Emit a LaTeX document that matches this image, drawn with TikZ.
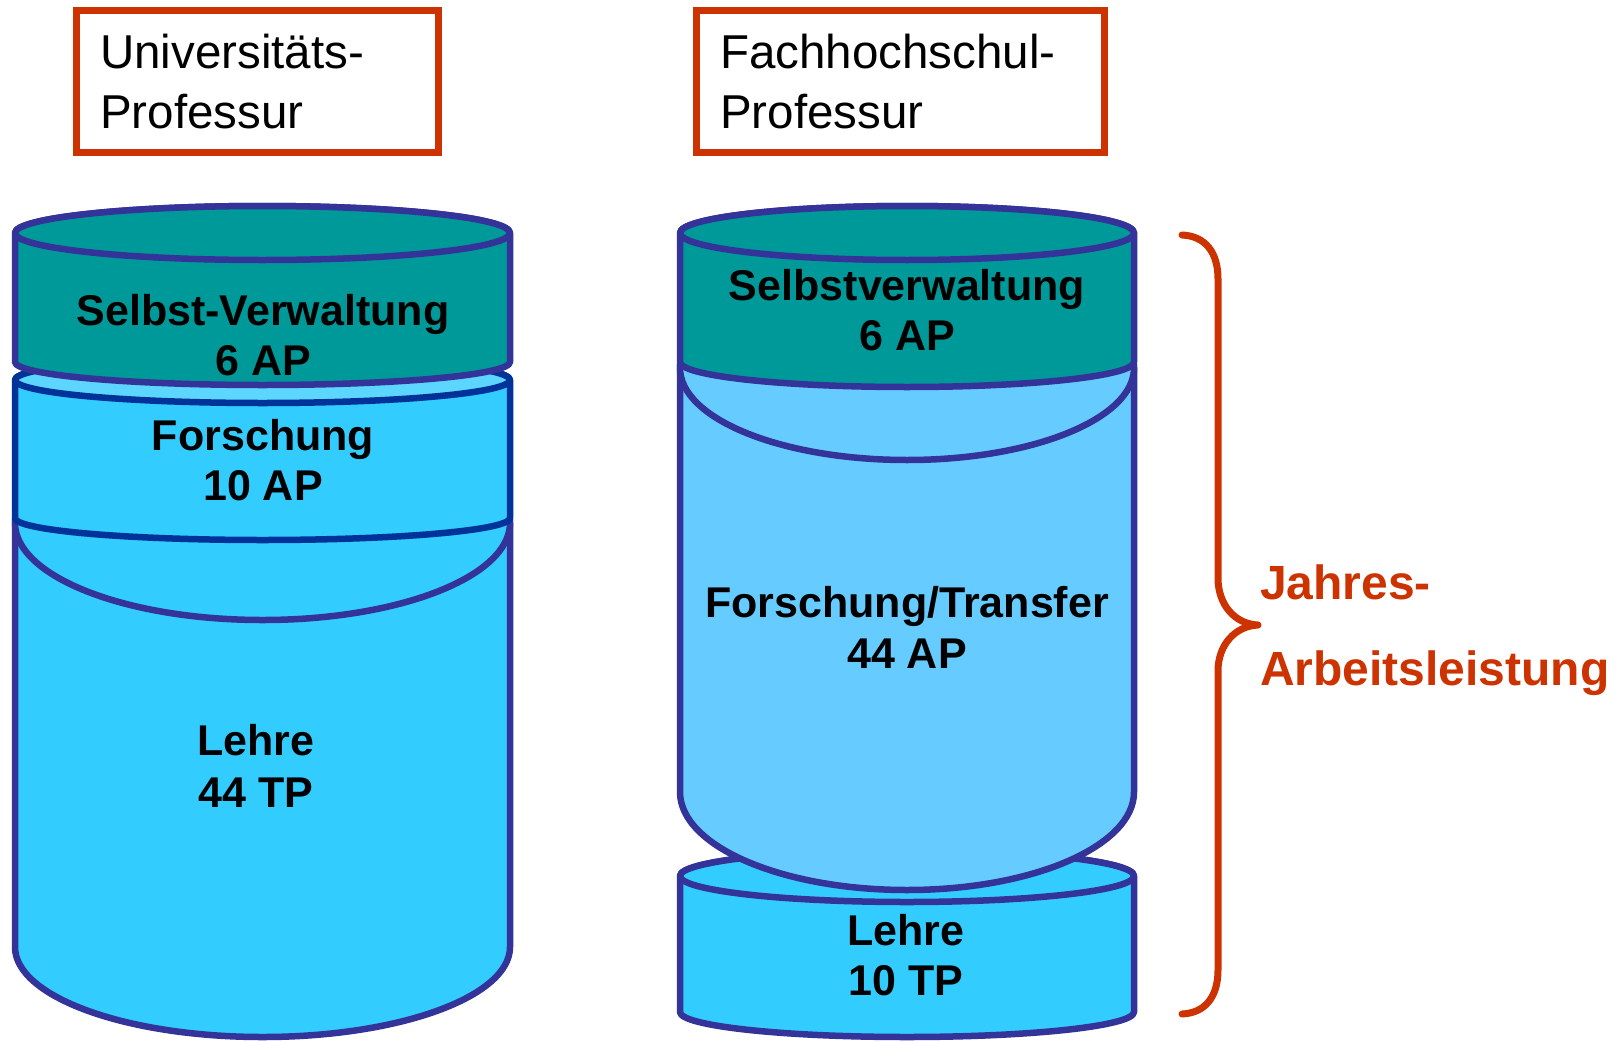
\documentclass[tikz,border=0pt]{standalone}
\usepackage{fontspec}
\setmainfont{Liberation Sans}
\definecolor{boxred}{HTML}{CC3300}
\definecolor{rim}{HTML}{333399}
\definecolor{rimdark}{HTML}{003399}
\definecolor{tealc}{HTML}{009999}
\definecolor{cyanc}{HTML}{33CCFF}
\definecolor{lightc}{HTML}{66CCFF}
\definecolor{topc}{HTML}{5CD6FF}
\tikzset{
  titlebox/.style={draw=boxred, line width=7pt, fill=white},
  titletext/.style={anchor=base west, inner sep=0pt, font=\fontsize{47.5}{60}\selectfont},
  segtext/.style={anchor=base, inner sep=0pt, font=\fontsize{43}{50}\selectfont\bfseries},
  bracetext/.style={anchor=base west, inner sep=0pt, text=boxred, font=\fontsize{48}{86}\selectfont\bfseries},
  segline/.style={line width=6.5pt, line join=round},
}
% #1 cx, #2 rx, #3 ytop, #4 rytop, #5 ybot, #6 rybot, #7 body fill, #8 top fill, #9 stroke
\newcommand\cylseg[9]{%
  \filldraw[segline, fill=#7, draw=#9] (#1-#2,#3) -- (#1-#2,#5)
    arc[start angle=180, end angle=360, x radius=#2pt, y radius=#6pt]
    -- (#1+#2,#3)
    arc[start angle=0, end angle=180, x radius=#2pt, y radius=#4pt] -- cycle;
  \filldraw[segline, fill=#8, draw=#9] (#1,#3) ellipse [x radius=#2pt, y radius=#4pt];
}
\begin{document}
\begin{tikzpicture}[x=1pt,y=-1pt]
\useasboundingbox (0,0) rectangle (1619,1041);
\fill[white] (0,0) rectangle (1619,1041);

% title boxes
\draw[titlebox] (76,11) rectangle (438,152);
\draw[titlebox] (696,11) rectangle (1104,152);
\node[titletext] (u1) at (100,68) {Universitäts-};
\node[titletext] (u2) at (100,128) {Professur};
\node[titletext] (f1) at (720,68) {Fachhochschul-};
\node[titletext] (f2) at (720,128) {Professur};

% left cylinder
\cylseg{262.5}{247.5}{523}{97}{947}{90}{cyanc}{cyanc}{rim}
\cylseg{262.5}{247.5}{380}{23}{518}{22}{cyanc}{topc}{rimdark}
\cylseg{262.5}{247.5}{233}{27}{362}{23}{tealc}{tealc}{rim}

% right cylinder
\cylseg{907}{227}{876}{26}{1012}{25}{cyanc}{cyanc}{rim}
\cylseg{907}{227}{368}{92}{792}{98}{lightc}{lightc}{rim}
\cylseg{907}{227}{233}{27}{362}{25}{tealc}{tealc}{rim}

% left labels
\node[segtext] (lsv1) at (263,325) {Selbst-Verwaltung};
\node[segtext] (lsv2) at (263,375) {6 AP};
\node[segtext] (lfo1) at (263,450) {Forschung};
\node[segtext] (lfo2) at (263,500) {10 AP};
\node[segtext] (lle1) at (256,755) {Lehre};
\node[segtext] (lle2) at (256,807) {44 TP};

% right labels
\node[segtext] (rsv1) at (907,300) {Selbstverwaltung};
\node[segtext] (rsv2) at (907,350) {6 AP};
\node[segtext] (rfo1) at (907,617) {Forschung/Transfer};
\node[segtext] (rfo2) at (907,668) {44 AP};
\node[segtext] (rle1) at (906,945) {Lehre};
\node[segtext] (rle2) at (906,995) {10 TP};

% brace
\draw[boxred, line width=7pt, line cap=round, line join=round]
  (1182,235) .. controls (1205,236) and (1218,252) .. (1218,279)
  -- (1218,578) .. controls (1218,605) and (1235,624) .. (1258,625)
  .. controls (1235,626) and (1218,645) .. (1218,671)
  -- (1218,970) .. controls (1218,997) and (1205,1013) .. (1182,1014);
\node[bracetext] (j1) at (1260,599) {Jahres-};
\node[bracetext] (j2) at (1260,685) {Arbeitsleistung};
\end{tikzpicture}
\end{document}
